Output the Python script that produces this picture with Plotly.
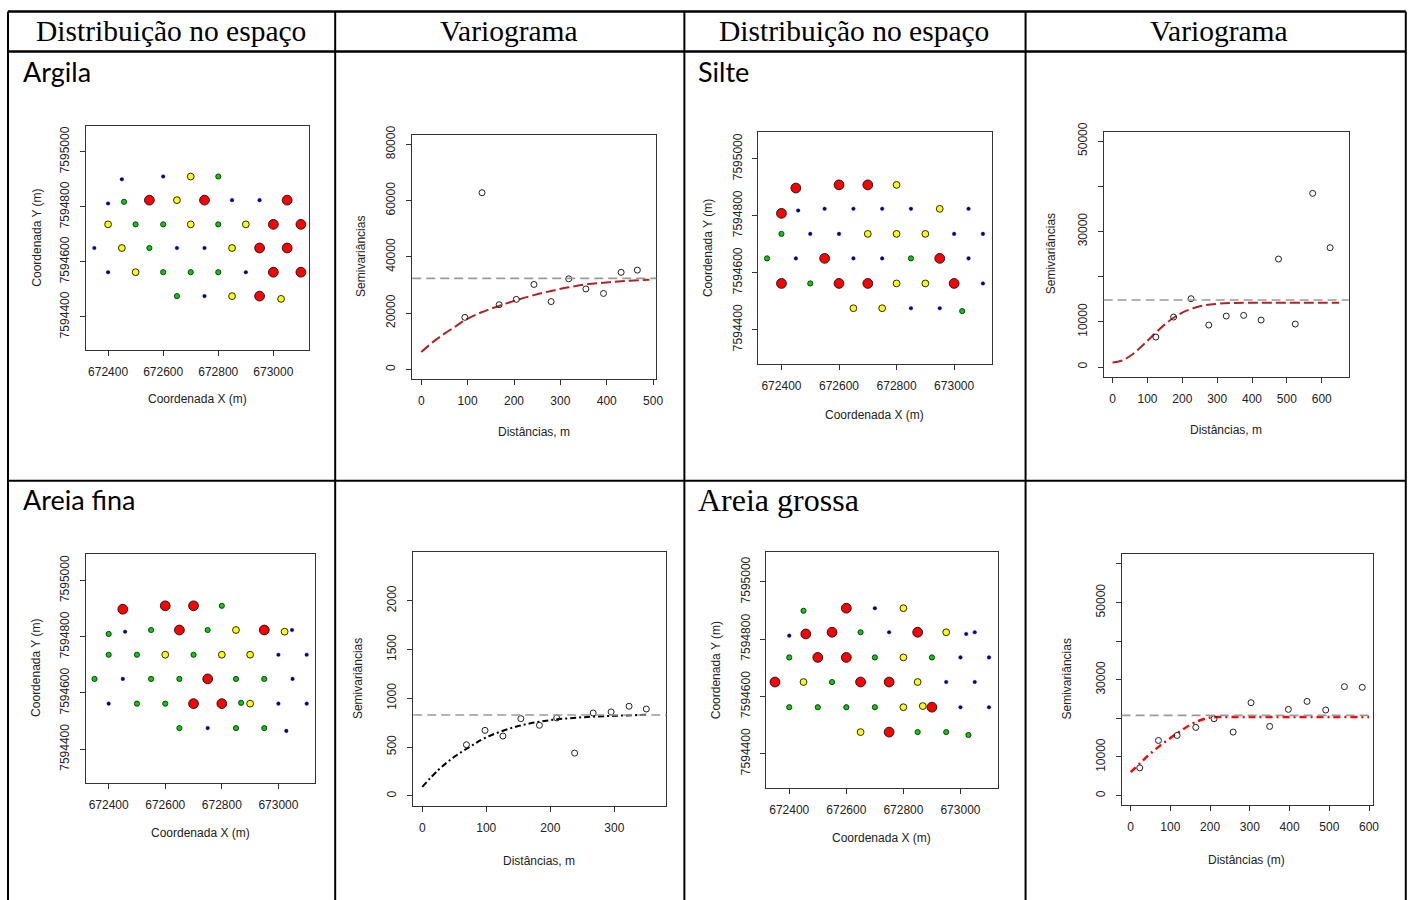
import plotly.graph_objects as go

W, H = 1416, 900

# ---------------- data ----------------
headers = ["Distribuição no espaço", "Variograma", "Distribuição no espaço", "Variograma"]
row_labels = ["Argila", "Silte", "Areia fina", "Areia grossa"]

# class codes: 1 = blue (lowest), 2 = green, 3 = yellow, 4 = red (highest)
argila_x = [672450, 672600, 672700, 672800,
            672400, 672458, 672550, 672650, 672750, 672850, 672950, 673050,
            672400, 672500, 672600, 672700, 672800, 672900, 673000, 673100,
            672350, 672450, 672550, 672650, 672750, 672850, 672950, 673050,
            672400, 672500, 672600, 672700, 672800, 672900, 673000, 673100,
            672650, 672750, 672850, 672950, 673028]
argila_y = [7594900, 7594910, 7594910, 7594910,
            7594812, 7594818, 7594824, 7594824, 7594824, 7594824, 7594824, 7594824,
            7594736, 7594736, 7594736, 7594736, 7594736, 7594736, 7594736, 7594736,
            7594650, 7594650, 7594650, 7594650, 7594650, 7594650, 7594650, 7594650,
            7594562, 7594562, 7594562, 7594562, 7594562, 7594562, 7594562, 7594562,
            7594475, 7594475, 7594475, 7594475, 7594465]
argila_cls = [1, 1, 3, 2,
              1, 2, 4, 3, 4, 1, 1, 4,
              3, 2, 2, 3, 2, 3, 4, 4,
              1, 3, 2, 1, 1, 3, 4, 4,
              1, 3, 2, 2, 2, 1, 4, 4,
              2, 1, 3, 4, 3]

silte_x = [672450, 672600, 672700, 672800,
           672400, 672458, 672550, 672650, 672750, 672850, 672950, 673050,
           672400, 672500, 672600, 672700, 672800, 672900, 673000, 673100,
           672350, 672450, 672550, 672650, 672750, 672850, 672950, 673050,
           672400, 672500, 672600, 672700, 672800, 672900, 673000, 673100,
           672650, 672750, 672850, 672950, 673028]
silte_y = [7594897, 7594908, 7594908, 7594908,
           7594808, 7594818, 7594824, 7594824, 7594824, 7594824, 7594824, 7594824,
           7594736, 7594736, 7594736, 7594736, 7594736, 7594736, 7594736, 7594736,
           7594650, 7594650, 7594650, 7594650, 7594650, 7594650, 7594650, 7594650,
           7594562, 7594562, 7594562, 7594562, 7594562, 7594562, 7594562, 7594562,
           7594475, 7594475, 7594475, 7594475, 7594465]
silte_cls = [4, 4, 4, 3,
             4, 1, 1, 1, 1, 1, 3, 1,
             2, 1, 1, 3, 3, 3, 1, 1,
             2, 1, 4, 1, 1, 2, 4, 1,
             4, 2, 4, 4, 3, 3, 4, 1,
             3, 3, 1, 1, 2]

fina_x = [672450, 672600, 672700, 672800,
          672400, 672458, 672550, 672650, 672750, 672850, 672950, 673022, 673048,
          672400, 672500, 672600, 672700, 672800, 672900, 673000, 673100,
          672350, 672450, 672550, 672650, 672750, 672850, 672950, 673050,
          672400, 672500, 672600, 672700, 672800, 672868, 672900, 673000, 673100,
          672650, 672750, 672850, 672950, 673028]
fina_y = [7594898, 7594910, 7594910, 7594910,
          7594810, 7594818, 7594824, 7594824, 7594824, 7594824, 7594824, 7594818, 7594824,
          7594736, 7594736, 7594736, 7594736, 7594736, 7594736, 7594736, 7594736,
          7594650, 7594650, 7594650, 7594650, 7594650, 7594650, 7594650, 7594650,
          7594562, 7594562, 7594562, 7594562, 7594562, 7594565, 7594562, 7594562, 7594562,
          7594475, 7594475, 7594475, 7594475, 7594465]
fina_cls = [4, 4, 4, 2,
            2, 1, 2, 4, 2, 3, 4, 3, 1,
            2, 2, 3, 2, 3, 3, 1, 1,
            2, 1, 2, 2, 4, 2, 2, 1,
            1, 2, 2, 4, 4, 2, 3, 1, 1,
            2, 1, 2, 2, 1]

grossa_x = [672450, 672600, 672700, 672800,
            672400, 672458, 672550, 672650, 672750, 672850, 672950, 673020, 673050,
            672400, 672500, 672600, 672700, 672800, 672900, 673000, 673100,
            672350, 672450, 672550, 672650, 672750, 672850, 672950, 673050,
            672400, 672500, 672600, 672700, 672800, 672868, 672900, 673000, 673100,
            672650, 672750, 672850, 672950, 673028]
grossa_y = [7594899, 7594908, 7594908, 7594908,
            7594812, 7594818, 7594824, 7594824, 7594824, 7594824, 7594824, 7594818, 7594824,
            7594736, 7594736, 7594736, 7594736, 7594736, 7594736, 7594736, 7594736,
            7594650, 7594650, 7594650, 7594650, 7594650, 7594650, 7594650, 7594650,
            7594562, 7594562, 7594562, 7594562, 7594562, 7594566, 7594562, 7594562, 7594562,
            7594475, 7594475, 7594475, 7594475, 7594465]
grossa_cls = [2, 4, 1, 3,
              1, 4, 4, 2, 1, 4, 3, 1, 1,
              2, 4, 4, 2, 3, 2, 1, 1,
              4, 3, 2, 4, 4, 3, 1, 1,
              2, 2, 2, 2, 3, 3, 4, 1, 1,
              3, 4, 2, 2, 2]

# experimental semivariograms
argila_h = [94, 131, 168, 205, 243, 280, 318, 355, 393, 431, 466]
argila_g = [18500, 62800, 23000, 24900, 30200, 24100, 32200, 28600, 27000, 34500, 35300]
silte_h = [124, 175, 225, 276, 326, 376, 426, 476, 524, 574, 624]
silte_g = [6640, 11060, 15120, 9290, 11280, 11430, 10400, 23890, 9510, 38420, 26400]
fina_h = [69, 98, 126, 154, 183, 210, 238, 267, 295, 323, 350]
fina_g = [524, 671, 613, 791, 723, 798, 438, 849, 860, 918, 890]
grossa_h = [23, 70, 117, 164, 210, 258, 303, 350, 397, 444, 491, 538, 583]
grossa_g = [7180, 14270, 15570, 17650, 19900, 16440, 24050, 17910, 22320, 24390, 22150, 28200, 28030]

# fitted models
argila_fit_h = [0, 25, 50, 75, 94, 130, 168, 205, 243, 280, 318, 355, 393, 431, 492]
argila_fit_g = [6160, 9700, 12700, 15400, 17500, 20300, 22600, 24600, 26400, 27900, 29200, 30200, 30800, 31300, 31900]
silte_fit_h = [0, 25, 50, 75, 100, 125, 150, 175, 200, 250, 300, 350, 650]
silte_fit_g = [1030, 1400, 2440, 3990, 5800, 7700, 9440, 10900, 12050, 13440, 14000, 14180, 14230]
fina_fit_h = [0, 25, 50, 75, 100, 150, 200, 250, 300, 350]
fina_fit_g = [92, 265, 400, 505, 600, 715, 775, 805, 820, 830]
grossa_fit_h = [0, 25, 50, 75, 100, 125, 150, 175, 200, 215, 300, 400, 500, 600]
grossa_fit_g = [6050, 8500, 10900, 13000, 14900, 16700, 18300, 19500, 20200, 20330, 20330, 20330, 20330, 20330]

sills = [32360, 14820, 829, 20760]

coord_x_ticks = [672400, 672600, 672800, 673000]
coord_y_ticks = [7594400, 7594600, 7594800, 7595000]

# ---------------- styles ----------------
cls_color = {1: "#00008B", 2: "#00D000", 3: "#FFFF00", 4: "#FF0000"}
cls_size = {1: 3.6, 2: 5.2, 3: 6.8, 4: 9.8}
cls_line = {1: 0.4, 2: 0.8, 3: 0.9, 4: 0.9}
cls_lcol = {1: "#00008B", 2: "#111111", 3: "#111111", 4: "#111111"}

TICKFONT = dict(family="Liberation Sans, Arial, sans-serif", size=12, color="#222")
AXC = "#333"

# compensation of the rendering geometry (target px -> layout px)
SX, OY, SY = 0.9945, 9.4, 0.9896


def LX(p):
    return p / SX


def LY(p):
    return (p - OY) / SY


def dom_x(a, b):
    return [LX(a) / W, LX(b) / W]


def dom_y(top, bot):
    return [1 - LY(bot) / H, 1 - LY(top) / H]


def paper(px, py):
    return LX(px) / W, 1 - LY(py) / H


fig = go.Figure()
layout_axes = {}
annotations = []
shapes = []


def add_axes(i, box, xr, yr, xt, yt, xtt=None, ytt=None):
    x0, y0, x1, y1 = box
    sx = "" if i == 1 else str(i)
    common = dict(showline=True, mirror=True, linecolor=AXC, linewidth=1,
                  ticks="outside", ticklen=5, tickwidth=1, tickcolor=AXC,
                  showgrid=False, zeroline=False, tickfont=TICKFONT, fixedrange=True)
    layout_axes["xaxis" + sx] = dict(domain=dom_x(x0, x1), range=xr, anchor="y" + sx,
                                     tickvals=xt, ticktext=xtt if xtt else [str(v) for v in xt],
                                     ticklabelstandoff=6, **common)
    layout_axes["yaxis" + sx] = dict(domain=dom_y(y0, y1), range=yr, anchor="x" + sx,
                                     tickvals=yt, ticktext=ytt if ytt else [str(v) for v in yt],
                                     tickangle=-90, ticklabelstandoff=6, **common)


def axis_title(text, cx, cy, angle=0):
    px_, py_ = paper(cx, cy)
    annotations.append(dict(text=text, x=px_, y=py_, xref="paper", yref="paper",
                            showarrow=False, xanchor="center", yanchor="middle",
                            textangle=angle, font=TICKFONT))


def spatial(i, box, xs, ys, cl, xtitle_pos, ytitle_pos, yr_top=7595095):
    sx = "" if i == 1 else str(i)
    add_axes(i, box, [672320, 673130], [7594280, yr_top], coord_x_ticks, coord_y_ticks)
    fig.add_trace(go.Scatter(
        x=xs, y=ys, mode="markers", xaxis="x" + sx, yaxis="y" + sx, hoverinfo="skip",
        marker=dict(color=[cls_color[c] for c in cl], size=[cls_size[c] for c in cl], opacity=1,
                    line=dict(color=[cls_lcol[c] for c in cl], width=[cls_line[c] for c in cl]))))
    axis_title("Coordenada X (m)", *xtitle_pos)
    axis_title("Coordenada Y (m)", *ytitle_pos, angle=-90)


def vario(i, box, xr, yr, xt, yt, ytt, hs, gs, fh, fg, sill, fitcolor, fitdash, fitwidth,
          xtitle, xtitle_pos, ytitle_pos):
    sx = "" if i == 1 else str(i)
    add_axes(i, box, xr, yr, xt, yt, ytt=ytt)
    shapes.append(dict(type="line", xref="x%s domain" % sx, yref="y" + sx, x0=0, x1=1,
                       y0=sill, y1=sill, line=dict(color="#9A9A9A", width=1.6, dash="9px,5px")))
    fig.add_trace(go.Scatter(x=fh, y=fg, mode="lines", xaxis="x" + sx, yaxis="y" + sx,
                             line=dict(color=fitcolor, width=fitwidth, dash=fitdash, shape="spline"),
                             hoverinfo="skip"))
    fig.add_trace(go.Scatter(x=hs, y=gs, mode="markers", xaxis="x" + sx, yaxis="y" + sx,
                             marker=dict(symbol="circle-open", size=6, color="#222",
                                         line=dict(width=1, color="#222")),
                             hoverinfo="skip"))
    axis_title(xtitle, *xtitle_pos)
    axis_title("Semivariâncias", *ytitle_pos, angle=-90)


# spatial panels
spatial(1, (86, 126, 309, 350), argila_x, argila_y, argila_cls, (197, 399), (37, 238))
spatial(3, (758, 132, 991, 364), silte_x, silte_y, silte_cls, (874, 415), (707, 248))
spatial(5, (86, 554, 315, 783), fina_x, fina_y, fina_cls, (200, 833), (36, 668))
spatial(7, (766, 552, 997, 788), grossa_x, grossa_y, grossa_cls, (881, 838), (715, 670),
        yr_top=7595105)

# variogram panels
vario(2, (412, 135, 656, 379), [-19.5, 507], [-3320, 83440],
      [0, 100, 200, 300, 400, 500], [0, 20000, 40000, 60000, 80000], None,
      argila_h, argila_g, argila_fit_h, argila_fit_g, sills[0], "#B22222", "10px,4px", 2,
      "Distâncias, m", (534, 432), (360, 257))
vario(4, (1103, 132, 1348, 377), [-25.8, 677.5], [-2140, 52070],
      [0, 100, 200, 300, 400, 500, 600], [0, 10000, 20000, 30000, 40000, 50000],
      ["0", "10000", "", "30000", "", "50000"],
      silte_h, silte_g, silte_fit_h, silte_fit_g, sills[1], "#B22222", "10px,4px", 2,
      "Distâncias, m", (1225, 430), (1050, 254))
vario(6, (413, 552, 666, 806), [-14.1, 381.3], [-103, 2500],
      [0, 100, 200, 300], [0, 500, 1000, 1500, 2000], None,
      fina_h, fina_g, fina_fit_h, fina_fit_g, sills[2], "#000000", "6px,3px,2px,3px", 2,
      "Distâncias, m", (539, 861), (358, 679))
vario(8, (1121, 554, 1372, 805), [-22.6, 609.4], [-2420, 62600],
      [0, 100, 200, 300, 400, 500, 600], [0, 10000, 20000, 30000, 40000, 50000, 60000],
      ["0", "10000", "", "30000", "", "50000", ""],
      grossa_h, grossa_g, grossa_fit_h, grossa_fit_g, sills[3], "#FF0000", "7px,4px,2px,4px", 2.5,
      "Distâncias (m)", (1246, 860), (1066, 679))


# ---------------- table frame ----------------
def pline(x0, y0, x1, y1, w=2):
    a, b = paper(x0, y0)
    c, d = paper(x1, y1)
    shapes.append(dict(type="line", xref="paper", yref="paper", x0=a, x1=c,
                       y0=b, y1=d, line=dict(color="#000", width=w)))


LEFT, RIGHT, TOP = 8, 1405, 12
for xv in [LEFT, 335, 684, 1025, RIGHT]:
    pline(xv, TOP, xv, 905)
pline(LEFT, TOP, RIGHT, TOP, 2.5)
pline(LEFT, 52, RIGHT, 52, 2.5)
pline(LEFT, 481, RIGHT, 481, 2)

SERIF = "Liberation Serif, Times New Roman, serif"
for txt, cx in zip(headers, [171, 509, 854, 1218]):
    px_, py_ = paper(cx, 31)
    annotations.append(dict(text=txt, x=px_, y=py_, xref="paper", yref="paper",
                            showarrow=False, xanchor="center", yanchor="middle",
                            font=dict(family=SERIF, size=29.5, color="#000")))

label_pos = [(21, 72), (696, 72), (21, 500), (696, 500)]
label_font = [dict(family="Lato, Carlito, sans-serif", size=27, color="#000")] * 3 + \
             [dict(family=SERIF, size=32, color="#000")]
for txt, (lx, ly), f in zip(row_labels, label_pos, label_font):
    px_, py_ = paper(lx, ly)
    annotations.append(dict(text=txt, x=px_, y=py_, xref="paper", yref="paper",
                            showarrow=False, xanchor="left", yanchor="middle", font=f))

fig.update_layout(width=W, height=H, margin=dict(l=0, r=0, t=0, b=0),
                  paper_bgcolor="white", plot_bgcolor="white", showlegend=False,
                  annotations=annotations, shapes=shapes, **layout_axes)

fig.write_html("out.html")
